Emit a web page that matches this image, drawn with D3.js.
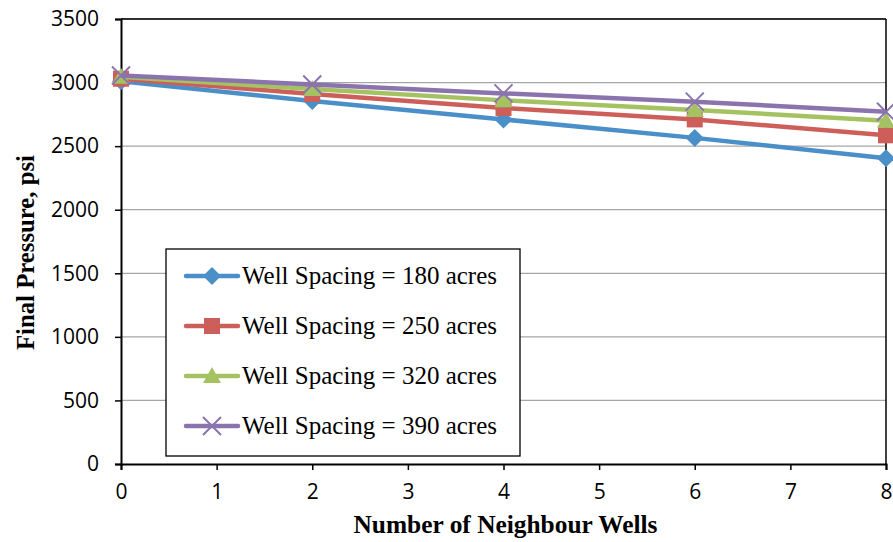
<!DOCTYPE html>
<html>
<head>
<meta charset="utf-8">
<script src="https://cdn.jsdelivr.net/npm/d3@7"></script>
<style>
  html, body { margin: 0; padding: 0; background: #fff; }
  svg { display: block; }
  .axis text { font-family: 'Open Sans', 'Liberation Sans', sans-serif; font-size: 21px; fill: #000; }
</style>
</head>
<body>
<svg id="chart" width="893" height="542"></svg>
<script>
// ---- Data ----
const xValues = [0, 2, 4, 6, 8];
const seriesNames = [
  "Well Spacing = 180 acres",
  "Well Spacing = 250 acres",
  "Well Spacing = 320 acres",
  "Well Spacing = 390 acres"
];
const spacing180 = [3010, 2855, 2710, 2565, 2405];
const spacing250 = [3030, 2910, 2800, 2710, 2585];
const spacing320 = [3045, 2950, 2860, 2785, 2700];
const spacing390 = [3055, 2985, 2915, 2850, 2770];
const xTicks = [0, 1, 2, 3, 4, 5, 6, 7, 8];
const yTicks = [0, 500, 1000, 1500, 2000, 2500, 3000, 3500];
const xTitle = "Number of Neighbour Wells";
const yTitle = "Final Pressure, psi";

const colors = ["#4A8FC8", "#CD5F5A", "#A5C263", "#8B74AE"];
const markers = ["diamond", "square", "triangle", "cross"];
const allSeries = [spacing180, spacing250, spacing320, spacing390];

// ---- Layout ----
const svg = d3.select("#chart");
const L = 121, R = 886, T = 19, B = 464;

const x = d3.scaleLinear().domain([0, 8]).range([L, R]);
const y = d3.scaleLinear().domain([0, 3500]).range([B, T]);

const serif = "'Liberation Serif', 'Times New Roman', Times, serif";

// gridlines
svg.append("g").selectAll("line").data(yTicks.filter(d => d > 0)).join("line")
  .attr("x1", L).attr("x2", R)
  .attr("y1", d => y(d)).attr("y2", d => y(d))
  .attr("stroke", "#a6a6a6").attr("stroke-width", 1.3);

// plot border top & right
svg.append("line").attr("x1", L).attr("x2", R).attr("y1", T).attr("y2", T)
  .attr("stroke", "#000").attr("stroke-width", 1.5);
svg.append("line").attr("x1", R).attr("x2", R).attr("y1", T).attr("y2", B)
  .attr("stroke", "#000").attr("stroke-width", 1.5);

// axes
const yAxis = svg.append("g").attr("class", "axis").attr("transform", `translate(${L},0)`)
  .call(d3.axisLeft(y).tickValues(yTicks).tickSize(6).tickPadding(16).tickFormat(d3.format("d")));
const xAxis = svg.append("g").attr("class", "axis").attr("transform", `translate(0,${B})`)
  .call(d3.axisBottom(x).tickValues(xTicks).tickSize(6).tickPadding(14).tickFormat(d3.format("d")));
[xAxis, yAxis].forEach(a => {
  a.attr("font-size", null).attr("font-family", null);
  a.select(".domain").attr("stroke", "#000").attr("stroke-width", 2);
  a.selectAll(".tick line").attr("stroke", "#000").attr("stroke-width", 1.5);
});

// axis titles
svg.append("text")
  .attr("x", (L + R) / 2 + 2).attr("y", 533)
  .attr("text-anchor", "middle")
  .style("font-family", serif)
  .style("font-weight", "bold").style("font-size", "25px")
  .attr("textLength", 304).attr("lengthAdjust", "spacingAndGlyphs")
  .text(xTitle);
svg.append("text")
  .attr("transform", `translate(34,${(T + B) / 2 + 11}) rotate(-90)`)
  .attr("text-anchor", "middle")
  .style("font-family", serif)
  .style("font-weight", "bold").style("font-size", "25px")
  .attr("textLength", 195).attr("lengthAdjust", "spacingAndGlyphs")
  .text(yTitle);

// marker drawing
function drawMarker(g, type, cx, cy, color) {
  if (type === "diamond") {
    g.append("path").attr("d", `M${cx},${cy-9}L${cx+9},${cy}L${cx},${cy+9}L${cx-9},${cy}Z`).attr("fill", color);
  } else if (type === "square") {
    g.append("rect").attr("x", cx - 8).attr("y", cy - 8).attr("width", 16).attr("height", 16).attr("fill", color);
  } else if (type === "triangle") {
    g.append("path").attr("d", `M${cx},${cy-9}L${cx+9},${cy+7}L${cx-9},${cy+7}Z`).attr("fill", color);
  } else {
    g.append("path").attr("d", `M${cx-9},${cy-9}L${cx+9},${cy+9}M${cx+9},${cy-9}L${cx-9},${cy+9}`)
      .attr("stroke", color).attr("stroke-width", 2).attr("fill", "none");
  }
}

// series
const line = d3.line().x((d, i) => x(xValues[i])).y(d => y(d));
allSeries.forEach((vals, si) => {
  const g = svg.append("g");
  g.append("path").datum(vals).attr("d", line)
    .attr("fill", "none").attr("stroke", colors[si]).attr("stroke-width", 4.5)
    .attr("stroke-linejoin", "round");
  vals.forEach((v, i) => drawMarker(g, markers[si], x(xValues[i]), y(v), colors[si]));
});

// legend
const lg = svg.append("g");
lg.append("rect").attr("x", 166).attr("y", 249).attr("width", 354).attr("height", 207)
  .attr("fill", "#fff").attr("stroke", "#000").attr("stroke-width", 1.3);
seriesNames.forEach((name, i) => {
  const cy = 276 + i * 50;
  lg.append("line").attr("x1", 186).attr("x2", 238).attr("y1", cy).attr("y2", cy)
    .attr("stroke", colors[i]).attr("stroke-width", 4.5).attr("stroke-linecap", "round");
  drawMarker(lg, markers[i], 212, cy, colors[i]);
  lg.append("text").attr("x", 242).attr("y", cy + 8)
    .style("font-family", serif)
    .style("font-size", "26px")
    .attr("textLength", 255).attr("lengthAdjust", "spacingAndGlyphs")
    .text(name);
});
</script>
</body>
</html>
